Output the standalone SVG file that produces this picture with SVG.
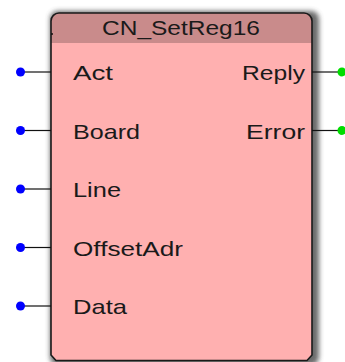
<svg xmlns="http://www.w3.org/2000/svg" width="345" height="362" viewBox="0 0 345 362">
  <style>
    .lbl { font-family: "Liberation Sans", Arial, sans-serif; font-size: 21px; fill: #1a1a1a; }
    .wire { stroke: #111; stroke-width: 1.2; fill: none; }
    .pin-in { fill: #0000ff; }
    .pin-out { fill: #00dd00; }
  </style>
  <defs>
    <filter id="shadow" x="-10%" y="-10%" width="120%" height="120%">
      <feGaussianBlur stdDeviation="2.5"/>
    </filter>
    <clipPath id="boxClip">
      <path d="M51,21 A8,8 0 0 1 59,13 L304,13 A8,8 0 0 1 312,21 L312,355 L307,360.5 L56,360.5 L51,355 Z"/>
    </clipPath>
  </defs>

  <!-- function block -->
  <g id="block">
    <rect x="50" y="11" width="269" height="354" rx="8" fill="#444" opacity="0.8" filter="url(#shadow)"/>
    <g clip-path="url(#boxClip)">
      <rect x="51" y="13" width="261" height="348" fill="#ffb0b0"/>
      <rect x="51" y="13" width="261" height="30" fill="#c98b8b"/>
    </g>
    <path d="M51,21 A8,8 0 0 1 59,13 L304,13 A8,8 0 0 1 312,21 L312,355 L307,360.5 L56,360.5 L51,355 Z" fill="none" stroke="#1a1a1a" stroke-width="1.6"/>
    <circle cx="52" cy="34" r="1" fill="#111"/>
    <text class="lbl" x="102" y="35" textLength="158" lengthAdjust="spacingAndGlyphs">CN_SetReg16</text>
  </g>

  <!-- connectors -->
  <g id="connectors">
    <line class="wire" x1="20" y1="72" x2="51" y2="72"/>
    <line class="wire" x1="20" y1="130.5" x2="51" y2="130.5"/>
    <line class="wire" x1="20" y1="189" x2="51" y2="189"/>
    <line class="wire" x1="20" y1="247.5" x2="51" y2="247.5"/>
    <line class="wire" x1="20" y1="306" x2="51" y2="306"/>
    <line class="wire" x1="312" y1="72" x2="342" y2="72"/>
    <line class="wire" x1="312" y1="130.5" x2="342" y2="130.5"/>
  </g>

  <!-- inputs -->
  <g id="in-act">
    <circle class="pin-in" cx="20.5" cy="72" r="4.5"/>
    <text class="lbl" x="73" y="80" textLength="40" lengthAdjust="spacingAndGlyphs">Act</text>
  </g>
  <g id="in-board">
    <circle class="pin-in" cx="20.5" cy="130.5" r="4.5"/>
    <text class="lbl" x="73" y="138.5" textLength="67" lengthAdjust="spacingAndGlyphs">Board</text>
  </g>
  <g id="in-line">
    <circle class="pin-in" cx="20.5" cy="189" r="4.5"/>
    <text class="lbl" x="73" y="197" textLength="48" lengthAdjust="spacingAndGlyphs">Line</text>
  </g>
  <g id="in-offsetadr">
    <circle class="pin-in" cx="20.5" cy="247.5" r="4.5"/>
    <text class="lbl" x="73" y="255.5" textLength="110" lengthAdjust="spacingAndGlyphs">OffsetAdr</text>
  </g>
  <g id="in-data">
    <circle class="pin-in" cx="20.5" cy="306" r="4.5"/>
    <text class="lbl" x="73" y="314" textLength="54" lengthAdjust="spacingAndGlyphs">Data</text>
  </g>

  <!-- outputs -->
  <g id="out-reply">
    <circle class="pin-out" cx="342" cy="72" r="4.5"/>
    <text class="lbl" x="242" y="80" textLength="63" lengthAdjust="spacingAndGlyphs">Reply</text>
  </g>
  <g id="out-error">
    <circle class="pin-out" cx="342" cy="130.5" r="4.5"/>
    <text class="lbl" x="246" y="138.5" textLength="59" lengthAdjust="spacingAndGlyphs">Error</text>
  </g>
</svg>
